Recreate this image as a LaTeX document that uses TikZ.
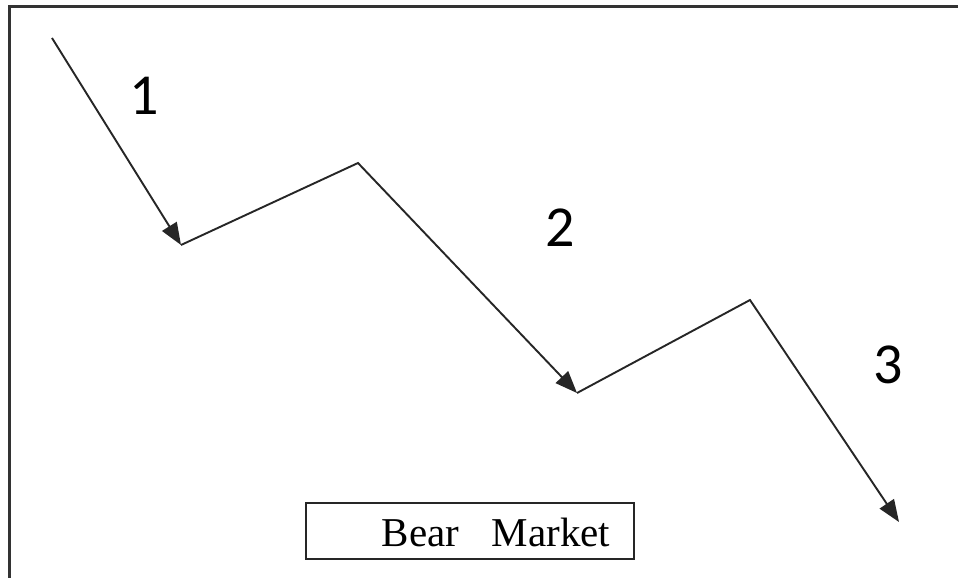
\documentclass[tikz,border=0pt]{standalone}
\usepackage{fontspec}
\setmainfont{Liberation Serif}
\newfontfamily\numfont{Carlito}
\usetikzlibrary{arrows.meta}
\begin{document}
\begin{tikzpicture}[x=1pt,y=-1pt,
  trend/.style={line width=1.9pt, draw=black!85, line join=miter},
  head/.style={-{Triangle[length=22pt,width=17pt]}},
  numlabel/.style={font=\numfont\fontsize{58}{62}\selectfont, inner sep=0pt},
  frameline/.style={line width=2.2pt, draw=black!80}]
\useasboundingbox (0,0) rectangle (958,578);
\fill[white] (0,0) rectangle (958,578);
\coordinate (fa) at (9.5,578);
\coordinate (fb) at (9.5,6.5);
\coordinate (fc) at (958,6.5);
\draw[frameline] (fa) -- (fb) -- (fc);
\coordinate (p0) at (52,38);
\coordinate (p1) at (181,245);
\coordinate (p2) at (358,163);
\coordinate (p3) at (577,393);
\coordinate (p4) at (750,300);
\coordinate (p5) at (899,522);
\draw[trend, head] (p0) -- (p1);
\draw[trend, head] (p1) -- (p2) -- (p3);
\draw[trend, head] (p3) -- (p4) -- (p5);
\node[numlabel] (n1) at (144,96) {1};
\node[numlabel] (n2) at (560,228) {2};
\node[numlabel] (n3) at (888,365) {3};
\node[draw=black!85, line width=1.7pt, minimum width=328pt, minimum height=56pt, inner sep=0pt] (box) at (470,531) {};
\node[font=\fontsize{41}{44}\selectfont, inner sep=0pt, anchor=base] (boxlabel) at (496,546) {Bear\hspace{0.8em}Market};
\end{tikzpicture}
\end{document}
